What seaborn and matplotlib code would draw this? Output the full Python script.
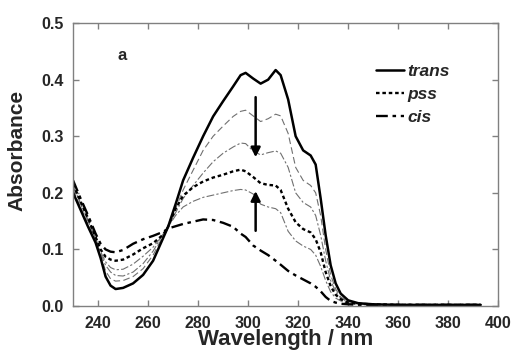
import pandas as pd
import matplotlib
matplotlib.use('Agg')
import matplotlib.pyplot as plt
import seaborn as sns

# Wavelength grid (nm) shared by all spectra
wavelength = [230, 233, 236, 239, 241, 243, 245, 247, 250, 254, 258, 262, 266, 268, 271,
              274, 278, 282, 286, 290, 294, 297, 299, 302, 305, 308, 311, 313, 316, 319,
              322, 325, 327, 329, 331, 333, 335, 337, 340, 344, 350, 360, 375, 393]

# Absorbance values
trans = [0.200, 0.170, 0.140, 0.112, 0.085, 0.052, 0.036, 0.030, 0.032, 0.040,
         0.055, 0.080, 0.120, 0.140, 0.180, 0.222, 0.262, 0.300, 0.335, 0.362,
         0.388, 0.408, 0.412, 0.402, 0.393, 0.400, 0.417, 0.408, 0.365, 0.300,
         0.275, 0.266, 0.250, 0.190, 0.125, 0.072, 0.040, 0.022, 0.010, 0.005,
         0.003, 0.002, 0.002, 0.002]
step1 = [0.205, 0.175, 0.145, 0.115, 0.090, 0.062, 0.048, 0.044, 0.045, 0.052,
         0.066, 0.090, 0.124, 0.140, 0.172, 0.205, 0.240, 0.275, 0.300, 0.318,
         0.335, 0.344, 0.346, 0.336, 0.326, 0.331, 0.339, 0.336, 0.305, 0.245,
         0.222, 0.213, 0.200, 0.160, 0.100, 0.055, 0.030, 0.016, 0.008, 0.004,
         0.003, 0.002, 0.002, 0.002]
step2 = [0.210, 0.180, 0.150, 0.118, 0.093, 0.072, 0.060, 0.054, 0.053, 0.060,
         0.075, 0.097, 0.127, 0.140, 0.165, 0.190, 0.213, 0.235, 0.255, 0.270,
         0.281, 0.288, 0.287, 0.274, 0.267, 0.271, 0.274, 0.270, 0.245, 0.200,
         0.183, 0.175, 0.160, 0.125, 0.080, 0.045, 0.025, 0.014, 0.007, 0.004,
         0.003, 0.002, 0.002, 0.002]
pss = [0.215, 0.185, 0.155, 0.122, 0.100, 0.087, 0.082, 0.080, 0.082, 0.091,
       0.102, 0.111, 0.126, 0.140, 0.172, 0.195, 0.210, 0.220, 0.227, 0.232,
       0.238, 0.241, 0.238, 0.228, 0.217, 0.214, 0.213, 0.205, 0.172, 0.148,
       0.136, 0.130, 0.118, 0.095, 0.060, 0.035, 0.020, 0.012, 0.006, 0.004,
       0.003, 0.002, 0.002, 0.002]
step3 = [0.212, 0.182, 0.152, 0.120, 0.096, 0.078, 0.068, 0.064, 0.065, 0.074,
         0.088, 0.104, 0.126, 0.140, 0.160, 0.175, 0.185, 0.192, 0.196, 0.200,
         0.204, 0.206, 0.205, 0.198, 0.180, 0.175, 0.172, 0.165, 0.132, 0.115,
         0.106, 0.100, 0.090, 0.070, 0.045, 0.025, 0.014, 0.009, 0.005, 0.003,
         0.002, 0.002, 0.002, 0.002]
cis = [0.222, 0.190, 0.160, 0.128, 0.110, 0.100, 0.096, 0.095, 0.099, 0.110,
       0.118, 0.124, 0.131, 0.137, 0.141, 0.145, 0.149, 0.153, 0.152, 0.147,
       0.140, 0.128, 0.122, 0.107, 0.098, 0.090, 0.080, 0.073, 0.062, 0.054,
       0.047, 0.040, 0.034, 0.026, 0.016, 0.009, 0.006, 0.004, 0.003, 0.002,
       0.002, 0.002, 0.002, 0.002]

df = pd.DataFrame({'wl': wavelength, 'trans': trans, 'step1': step1, 'step2': step2,
                   'pss': pss, 'step3': step3, 'cis': cis})

sns.set_style("ticks")
plt.rcParams['font.family'] = ['Liberation Sans', 'DejaVu Sans']
plt.rcParams['font.weight'] = 'bold'

fig = plt.figure(figsize=(5.11, 3.55), dpi=100)
ax = fig.add_axes([0.143, 0.138, 0.832, 0.797])

# thin intermediate spectra
sns.lineplot(data=df, x='wl', y='step1', ax=ax, color='#707070', linewidth=0.8,
             linestyle=(0, (6, 3)))
sns.lineplot(data=df, x='wl', y='step2', ax=ax, color='#707070', linewidth=0.8,
             linestyle=(0, (7, 2, 2, 2)))
sns.lineplot(data=df, x='wl', y='step3', ax=ax, color='#707070', linewidth=0.8,
             linestyle=(0, (7, 2, 2, 2)))

# main spectra
l_trans = sns.lineplot(data=df, x='wl', y='trans', ax=ax, color='black',
                       linewidth=1.8).lines[-1]
l_pss = sns.lineplot(data=df, x='wl', y='pss', ax=ax, color='black', linewidth=1.7,
                     linestyle=(0, (1.5, 1.2))).lines[-1]
l_cis = sns.lineplot(data=df, x='wl', y='cis', ax=ax, color='black', linewidth=1.7,
                     linestyle=(0, (5, 2, 1.5, 2))).lines[-1]

# arrows showing the change
ax.annotate('', xy=(303, 0.258), xytext=(303, 0.374),
            arrowprops=dict(arrowstyle='-|>', color='black', lw=1.8, mutation_scale=14))
ax.annotate('', xy=(303, 0.208), xytext=(303, 0.128),
            arrowprops=dict(arrowstyle='-|>', color='black', lw=1.8, mutation_scale=14))

ax.text(249.5, 0.443, 'a', fontsize=12, fontweight='bold', ha='center', va='center')

ax.legend([l_trans, l_pss, l_cis], ['trans', 'pss', 'cis'], loc='upper left',
          bbox_to_anchor=(0.713, 0.855), frameon=False, borderpad=0, borderaxespad=0,
          handlelength=1.6, handletextpad=0.2, labelspacing=0.45,
          prop=dict(family='Liberation Sans', weight='bold', style='italic', size=12.5))

ax.set_xlim(230, 400)
ax.set_ylim(0, 0.5)
ax.set_xticks([240, 260, 280, 300, 320, 340, 360, 380, 400])
ax.set_yticks([0.0, 0.1, 0.2, 0.3, 0.4, 0.5])
ax.set_yticklabels(['0.0', '0.1', '0.2', '0.3', '0.4', '0.5'])
ax.tick_params(direction='in', top=True, right=True, length=4, width=1,
               color='#808080', labelsize=11.5, pad=7)
for lab in ax.get_xticklabels() + ax.get_yticklabels():
    lab.set_fontweight('bold')
for sp in ax.spines.values():
    sp.set_color('#808080')
    sp.set_linewidth(1)

ax.set_xlabel('Wavelength / nm', fontsize=16, fontweight='bold', labelpad=-1)
ax.set_ylabel('Absorbance', fontsize=15, fontweight='bold')
ax.yaxis.set_label_coords(-0.11, 0.55)

fig.savefig('out.png', dpi=100)
